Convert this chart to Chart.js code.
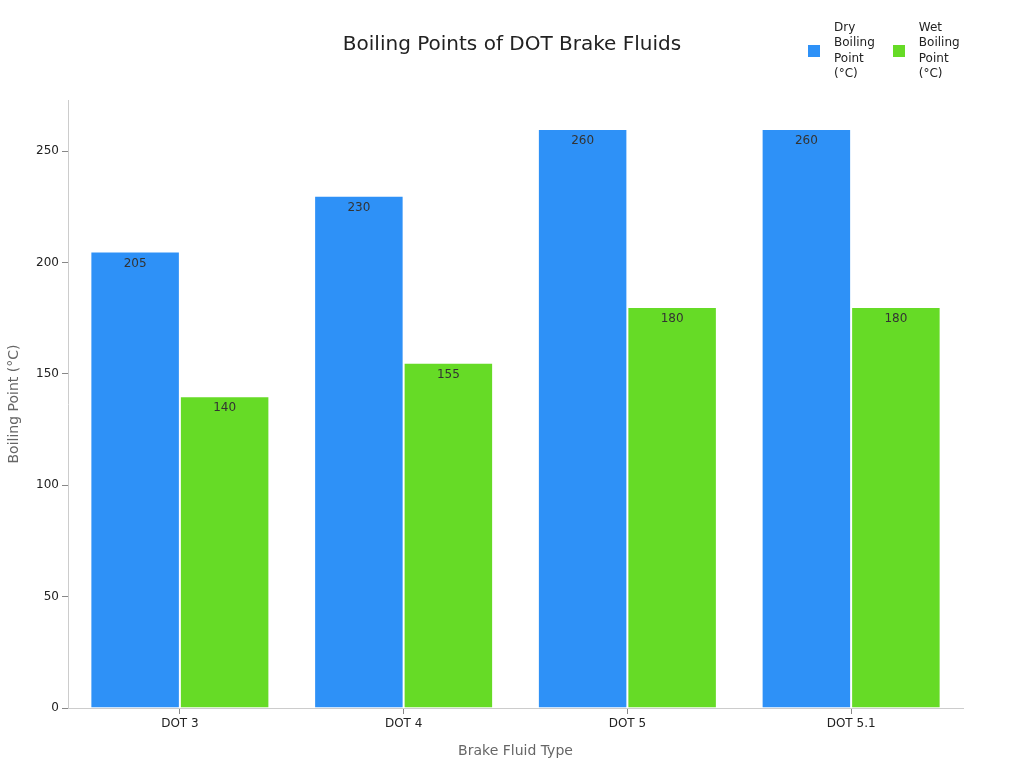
<!DOCTYPE html>
<html>
<head>
<meta charset="utf-8">
<script src="https://cdn.jsdelivr.net/npm/chart.js@4.4.1/dist/chart.umd.min.js"></script>
<style>
  html, body { margin: 0; padding: 0; background: #fff; }
  #wrap { position: relative; width: 1024px; height: 768px; }
  #title { position: absolute; top: 30px; left: 0; width: 1024px; text-align: center; font-family: "DejaVu Sans", sans-serif; font-size: 20px; color: #222; line-height: 26px; }
  #legend { position: absolute; top: 20px; left: 808px; font-family: "DejaVu Sans", sans-serif; font-size: 12px; color: #222; display: flex; }
  .item { display: flex; align-items: center; margin-right: 18px; }
  .sw { width: 12px; height: 12px; margin-right: 14px; }
  .txt { line-height: 15.4px; }
</style>
</head>
<body>
<div id="wrap">
  <canvas id="c" width="1024" height="768"></canvas>
  <div id="title">Boiling Points of DOT Brake Fluids</div>
  <div id="legend"></div>
</div>
<script>
const categories = ["DOT 3", "DOT 4", "DOT 5", "DOT 5.1"];
const dryBoiling = [205, 230, 260, 260];
const wetBoiling = [140, 155, 180, 180];
const seriesNames = [["Dry", "Boiling", "Point", "(°C)"], ["Wet", "Boiling", "Point", "(°C)"]];
const seriesColors = ["#2E91F7", "#66DB26"];
const yTicks = [0, 50, 100, 150, 200, 250];

const FONT = "DejaVu Sans";

const valueLabels = {
  id: 'valueLabels',
  afterDatasetsDraw(chart) {
    const ctx = chart.ctx;
    ctx.save();
    ctx.font = "12px '" + FONT + "'";
    ctx.fillStyle = "#333";
    ctx.textAlign = "center";
    ctx.textBaseline = "middle";
    chart.data.datasets.forEach((ds, i) => {
      chart.getDatasetMeta(i).data.forEach((bar, j) => {
        ctx.fillText(String(ds.data[j]), bar.x, bar.y + 12);
      });
    });
    ctx.restore();
  }
};

new Chart(document.getElementById('c'), {
  type: 'bar',
  data: {
    labels: categories,
    datasets: [
      { label: seriesNames[0].join(' '), data: dryBoiling, backgroundColor: seriesColors[0], borderColor: 'rgba(255,255,255,0.4)', borderWidth: 1 },
      { label: seriesNames[1].join(' '), data: wetBoiling, backgroundColor: seriesColors[1], borderColor: 'rgba(255,255,255,0.4)', borderWidth: 1 }
    ]
  },
  options: {
    responsive: false,
    animation: false,
    layout: { padding: { left: 0, right: 61, top: 100, bottom: 0 } },
    datasets: { bar: { categoryPercentage: 0.8, barPercentage: 1.0 } },
    plugins: {
      legend: { display: false },
      tooltip: { enabled: false },
      title: { display: false }
    },
    scales: {
      x: {
        afterFit: (s) => { s.height = 60; },
        grid: { display: true, drawOnChartArea: false, drawTicks: true, tickLength: 6, color: '#888', offset: false },
        border: { display: true, color: '#ccc' },
        ticks: { color: '#222', font: { family: FONT, size: 12 }, padding: 3 },
        title: { display: true, text: 'Brake Fluid Type', color: '#666', font: { family: FONT, size: 14 }, padding: { top: 4, bottom: 8 } }
      },
      y: {
        min: 0,
        max: 273,
        afterFit: (s) => { s.width = 68; },
        afterBuildTicks: (s) => { s.ticks = yTicks.map(v => ({ value: v })); },
        grid: { display: true, drawOnChartArea: false, drawTicks: true, tickLength: 6, color: '#888' },
        border: { display: true, color: '#ccc' },
        ticks: { color: '#222', font: { family: FONT, size: 12 }, padding: 3 },
        title: { display: true, text: 'Boiling Point (°C)', color: '#666', font: { family: FONT, size: 14 }, padding: { top: 6, bottom: 4 } }
      }
    }
  },
  plugins: [valueLabels]
});

const legend = document.getElementById('legend');
seriesNames.forEach((lines, i) => {
  const it = document.createElement('div');
  it.className = 'item';
  const sw = document.createElement('div');
  sw.className = 'sw';
  sw.style.background = seriesColors[i];
  const t = document.createElement('div');
  t.className = 'txt';
  t.innerHTML = lines.join('<br>');
  it.appendChild(sw);
  it.appendChild(t);
  legend.appendChild(it);
});
</script>
</body>
</html>
